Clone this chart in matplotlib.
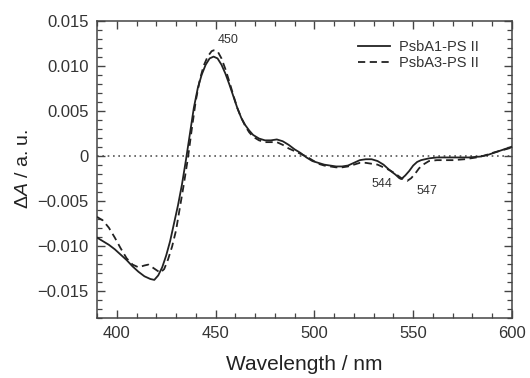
import matplotlib
matplotlib.use("Agg")
import matplotlib.pyplot as plt
from matplotlib.ticker import MultipleLocator, FixedFormatter, FixedLocator

plt.rcParams["font.family"] = ["Liberation Sans", "DejaVu Sans"]
plt.rcParams["mathtext.fontset"] = "custom"
plt.rcParams["mathtext.rm"] = "Liberation Sans"
plt.rcParams["mathtext.it"] = "Liberation Sans:italic"

# PsbA1-PS II (solid)
wl_a1 = [390, 393, 396, 399, 402, 405, 408, 411, 414, 417, 419, 421, 423, 425,
         427, 429, 431, 433, 435, 437, 439, 441, 443, 445, 447, 449, 451, 453,
         455, 457, 459, 461, 463, 465, 467, 469, 472, 475, 478, 481, 484, 487,
         490, 493, 496, 499, 502, 505, 508, 511, 514, 517, 520, 523, 526, 529,
         532, 535, 538, 541, 543, 544, 546, 548, 550, 552, 554, 558, 562, 570,
         578, 584, 588, 592, 596, 600]
da_a1 = [-0.0091, -0.0095, -0.0099, -0.0104, -0.0110, -0.0116, -0.0123, -0.0129,
         -0.0134, -0.0137, -0.0138, -0.0133, -0.0124, -0.0111, -0.0095, -0.0075,
         -0.0055, -0.0032, -0.0005, 0.0024, 0.0053, 0.0075, 0.0090, 0.0101,
         0.0108, 0.0110, 0.0108, 0.0101, 0.0091, 0.0079, 0.0066, 0.0053, 0.0042,
         0.0034, 0.0028, 0.0023, 0.0019, 0.0017, 0.0017, 0.0018, 0.0016, 0.0012,
         0.0007, 0.0003, -0.0002, -0.0006, -0.0008, -0.0010, -0.0011, -0.0012,
         -0.0012, -0.0011, -0.0008, -0.0005, -0.0004, -0.0004, -0.0006, -0.0010,
         -0.0016, -0.0021, -0.0025, -0.0026, -0.0022, -0.0017, -0.0011, -0.0007,
         -0.0005, -0.0003, -0.0002, -0.0002, -0.0002, -0.0001, 0.0001, 0.0004,
         0.0007, 0.0010]

# PsbA3-PS II (dashed)
wl_a3 = [390, 393, 396, 399, 402, 405, 408, 411, 414, 416, 418, 420, 422, 424,
         426, 428, 430, 432, 434, 436, 438, 440, 442, 444, 446, 448, 449, 451,
         453, 455, 457, 459, 461, 463, 465, 467, 469, 472, 475, 478, 481, 484,
         487, 490, 493, 496, 499, 502, 505, 508, 511, 514, 517, 520, 523, 526,
         529, 532, 535, 538, 541, 544, 547, 549, 551, 553, 555, 558, 562, 570,
         576, 582, 586, 590, 595, 600]
da_a3 = [-0.0068, -0.0072, -0.0080, -0.0091, -0.0103, -0.0114, -0.0121, -0.0124,
         -0.0122, -0.0121, -0.0124, -0.0127, -0.0130, -0.0126, -0.0115, -0.0101,
         -0.0083, -0.0057, -0.0031, -0.0003, 0.0030, 0.0061, 0.0084, 0.0100,
         0.0110, 0.0116, 0.0117, 0.0116, 0.0108, 0.0096, 0.0082, 0.0067, 0.0053,
         0.0042, 0.0033, 0.0026, 0.0021, 0.0017, 0.0015, 0.0015, 0.0015, 0.0012,
         0.0008, 0.0005, 0.0002, -0.0001, -0.0005, -0.0009, -0.0011, -0.0012,
         -0.0013, -0.0013, -0.0012, -0.0010, -0.0008, -0.0008, -0.0009, -0.0010,
         -0.0013, -0.0016, -0.0020, -0.0025, -0.0028, -0.0025, -0.0020, -0.0014,
         -0.0010, -0.0006, -0.0005, -0.0005, -0.0004, -0.0002, 0.0000, 0.0003,
         0.0006, 0.0009]

# peak annotations: (text, x, y)
peak_labels = [("450", 456.3, 0.0129), ("544", 534.0, -0.0031), ("547", 557.0, -0.0039)]

y_ticks = [-0.015, -0.010, -0.005, 0.0, 0.005, 0.010, 0.015]
y_tick_labels = ["\u22120.015", "\u22120.010", "\u22120.005", "0", "0.005", "0.010", "0.015"]
x_ticks = [400, 450, 500, 550, 600]

fig = plt.figure(figsize=(5.3, 3.78), dpi=100)
ax = fig.add_axes([0.183, 0.1595, 0.783, 0.786])

ink = "#222222"
ax.axhline(0, color="#555555", linestyle=(0, (1, 2.2)), linewidth=1.2, zorder=1)
ax.plot(wl_a1, da_a1, color=ink, linewidth=1.3, label="PsbA1-PS II", zorder=3)
ax.plot(wl_a3, da_a3, color=ink, linewidth=1.3, linestyle=(0, (4, 2.5)),
        label="PsbA3-PS II", zorder=3)

for txt, x, y in peak_labels:
    ax.text(x, y, txt, ha="center", va="center", fontsize=9, color="#333333")

ax.set_xlim(390, 600)
ax.set_ylim(-0.018, 0.015)
ax.xaxis.set_major_locator(FixedLocator(x_ticks))
ax.xaxis.set_minor_locator(MultipleLocator(10))
ax.yaxis.set_major_locator(FixedLocator(y_ticks))
ax.yaxis.set_major_formatter(FixedFormatter(y_tick_labels))
ax.yaxis.set_minor_locator(MultipleLocator(0.001))

ax.tick_params(which="both", direction="in", top=True, right=True,
               color="#444444", labelcolor="#333333", labelsize=12)
ax.tick_params(which="major", length=6, width=1.0, pad=6)
ax.tick_params(which="minor", length=3.5, width=0.9)
for sp in ax.spines.values():
    sp.set_color("#444444")
    sp.set_linewidth(1.1)

ax.set_xlabel("Wavelength / nm", fontsize=15, color="#222222", labelpad=10)
ax.set_ylabel(r"$\Delta\mathit{A}$ / a. u.", fontsize=14, color="#222222", labelpad=4)

leg = ax.legend(loc="upper left", bbox_to_anchor=(0.615, 0.955), frameon=False,
                fontsize=10.5, handlelength=2.2, handletextpad=0.6,
                labelspacing=0.15, borderaxespad=0.0)
for t in leg.get_texts():
    t.set_color("#333333")

fig.savefig("out.png", dpi=100)
